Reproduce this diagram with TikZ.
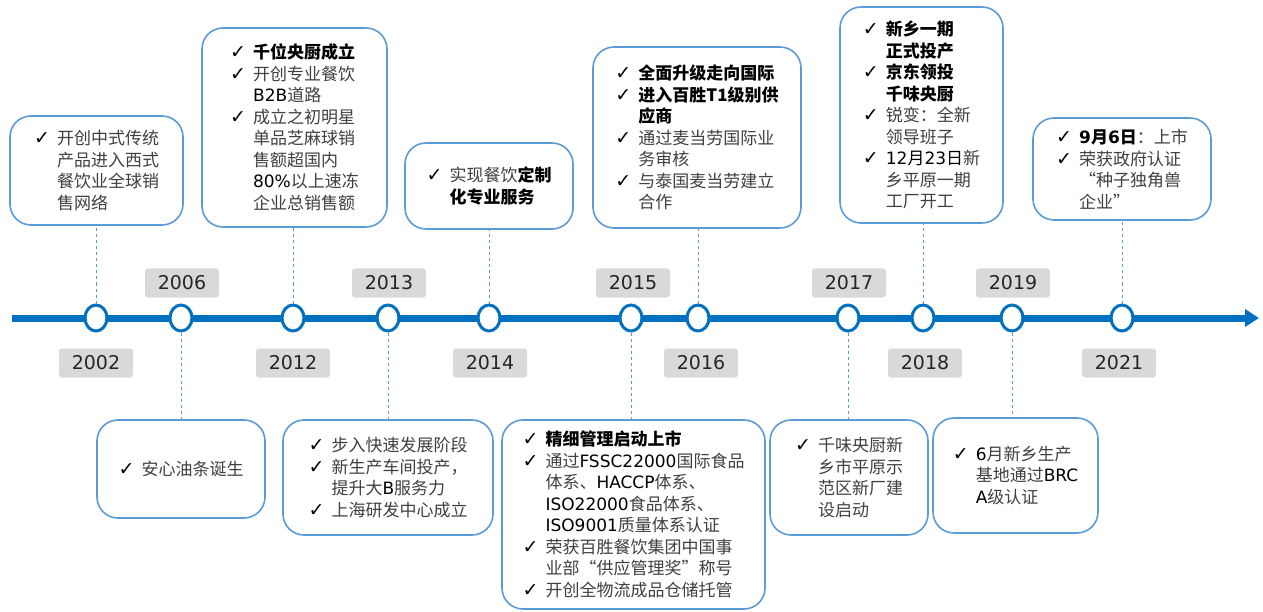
\documentclass[tikz,border=0pt]{standalone}
\usepackage{fontspec}
\setmainfont{Noto Sans CJK SC}
\newfontfamily\enfont{DejaVu Sans}
\usetikzlibrary{shapes,arrows.meta}
\definecolor{tlblue}{HTML}{0070C0}
\definecolor{boxblue}{HTML}{5B9BD5}
\definecolor{txtgray}{HTML}{404040}
\definecolor{yeargray}{HTML}{D9D9D9}
\newlength{\ckw}
\setlength{\ckw}{23pt}
\newcommand{\en}[1]{{\enfont #1}}
\newcommand{\ck}{\makebox[\ckw][l]{\color{black}\enfont\fontsize{19}{19}\selectfont\char"2713}}
\newcommand{\nx}{\makebox[\ckw]{}}
\newcommand{\hl}[1]{{\bfseries\color{black}#1}}
\tikzstyle{every picture}+=[x=1pt,y=-1pt]
\tikzstyle{event}=[draw=boxblue,line width=1.6pt,fill=white,rounded corners=21pt,align=left,inner sep=0pt,text=txtgray,font=\fontsize{17}{21.5}\selectfont]
\tikzstyle{dot}=[ellipse,draw=tlblue,line width=3pt,fill=white,minimum width=22pt,minimum height=26pt,inner sep=0pt]
\tikzstyle{year}=[fill=yeargray,rounded corners=3pt,minimum width=74pt,minimum height=29pt,inner sep=0pt,text=black!85,font=\enfont\fontsize{19}{22}\selectfont]
\tikzstyle{link}=[draw=boxblue,line width=0.9pt,dash pattern=on 3pt off 3pt]
\tikzstyle{timeline}=[draw=tlblue,line width=7pt,-{Triangle[length=14pt,width=17pt]}]

\begin{document}
\begin{tikzpicture}
\useasboundingbox (0,0) rectangle (1263,612);

% the axis
\coordinate (tl0) at (12,318);
\coordinate (tl1) at (1259,318);
\draw[timeline] (tl0) -- (tl1);

\node[dot] (c02) at (96,318) {};
\node[dot] (c06) at (181,318) {};
\node[dot] (c12) at (293,318) {};
\node[dot] (c13) at (388,318) {};
\node[dot] (c14) at (489,318) {};
\node[dot] (c15) at (631,318) {};
\node[dot] (c16) at (698,318) {};
\node[dot] (c17) at (848,318) {};
\node[dot] (c18) at (923,318) {};
\node[dot] (c19) at (1012,318) {};
\node[dot] (c21) at (1122,318) {};

% years
\node[year] (y02) at (96,363) {2002};
\node[year] (y06) at (182,283) {2006};
\node[year] (y12) at (293,363) {2012};
\node[year] (y13) at (389,283) {2013};
\node[year] (y14) at (490,363) {2014};
\node[year] (y15) at (633,283) {2015};
\node[year] (y16) at (701,363) {2016};
\node[year] (y17) at (849,283) {2017};
\node[year] (y18) at (925,363) {2018};
\node[year] (y19) at (1013,283) {2019};
\node[year] (y21) at (1119,363) {2021};

% boxes above
\node[event,minimum width=173pt,minimum height=109pt] (b02) at (96.5,170.5)
  {\ck 开创中式传统\\\nx 产品进入西式\\\nx 餐饮业全球销\\\nx 售网络};
\node[event,minimum width=185pt,minimum height=199pt] (b12) at (294.5,127.5)
  {\ck \hl{千位央厨成立}\\\ck 开创专业餐饮\\\nx \en{\color{black}B2B}道路\\\ck 成立之初明星\\\nx 单品芝麻球销\\\nx 售额超国内\\\nx \en{\color{black}80\%}以上速冻\\\nx 企业总销售额};
\node[event,minimum width=168pt,minimum height=86pt] (b14) at (489,186)
  {\ck 实现餐饮\hl{定制}\\\nx \hl{化专业服务}};
\node[event,minimum width=208pt,minimum height=181pt] (b16) at (697,137.5)
  {\ck \hl{全面升级走向国际}\\\ck \hl{进入百胜T1级别供}\\\nx \hl{应商}\\\ck 通过麦当劳国际业\\\nx 务审核\\\ck 与泰国麦当劳建立\\\nx 合作};
\node[event,minimum width=163pt,minimum height=216pt] (b18) at (921.5,115)
  {\ck \hl{新乡一期}\\\nx \hl{正式投产}\\\ck \hl{京东领投}\\\nx \hl{千味央厨}\\\ck 锐变：全新\\\nx 领导班子\\\ck {\color{black}\en{12}月\en{23}日}新\\\nx 乡平原一期\\\nx 工厂开工};
\node[event,minimum width=178pt,minimum height=102pt] (b21) at (1122,169)
  {\ck \hl{\en{9}月\en{6}日}：上市\\\ck 荣获政府认证\\\nx “种子独角兽\\\nx 企业”};

% boxes below
\node[event,minimum width=168pt,minimum height=98pt] (b06) at (181,469)
  {\ck 安心油条诞生};
\node[event,minimum width=210pt,minimum height=115pt] (b13) at (388,477.5)
  {\ck 步入快速发展阶段\\\ck 新生产车间投产，\\\nx 提升大\en{\color{black}B}服务力\\\ck 上海研发中心成立};
\node[event,minimum width=263pt,minimum height=189pt] (b15) at (633.5,514.5)
  {\ck \hl{精细管理启动上市}\\\ck 通过\en{\color{black}FSSC22000}国际食品\\\nx 体系、\en{\color{black}HACCP}体系、\\\nx \en{\color{black}ISO22000}食品体系、\\\nx \en{\color{black}ISO9001}质量体系认证\\\ck 荣获百胜餐饮集团中国事\\\nx 业部“供应管理奖”称号\\\ck 开创全物流成品仓储托管};
\node[event,minimum width=158pt,minimum height=115pt] (b17) at (849,477.5)
  {\ck 千味央厨新\\\nx 乡市平原示\\\nx 范区新厂建\\\nx 设启动};
\node[event,minimum width=165pt,minimum height=115pt] (b19) at (1015.5,475.5)
  {\ck \en{\color{black}6}月新乡生产\\\nx 基地通过\en{\color{black}BRC}\\\nx \en{\color{black}A}级认证};

% dashed links
\draw[link] (c02) -- (c02 |- b02.south);
\draw[link] (c12) -- (c12 |- b12.south);
\draw[link] (c14) -- (c14 |- b14.south);
\draw[link] (c16) -- (c16 |- b16.south);
\draw[link] (c18) -- (c18 |- b18.south);
\draw[link] (c21) -- (c21 |- b21.south);
\draw[link] (c06) -- (c06 |- b06.north);
\draw[link] (c13) -- (c13 |- b13.north);
\draw[link] (c15) -- (c15 |- b15.north);
\draw[link] (c17) -- (c17 |- b17.north);
\draw[link] (c19) -- (c19 |- b19.north);
\end{tikzpicture}
\end{document}
